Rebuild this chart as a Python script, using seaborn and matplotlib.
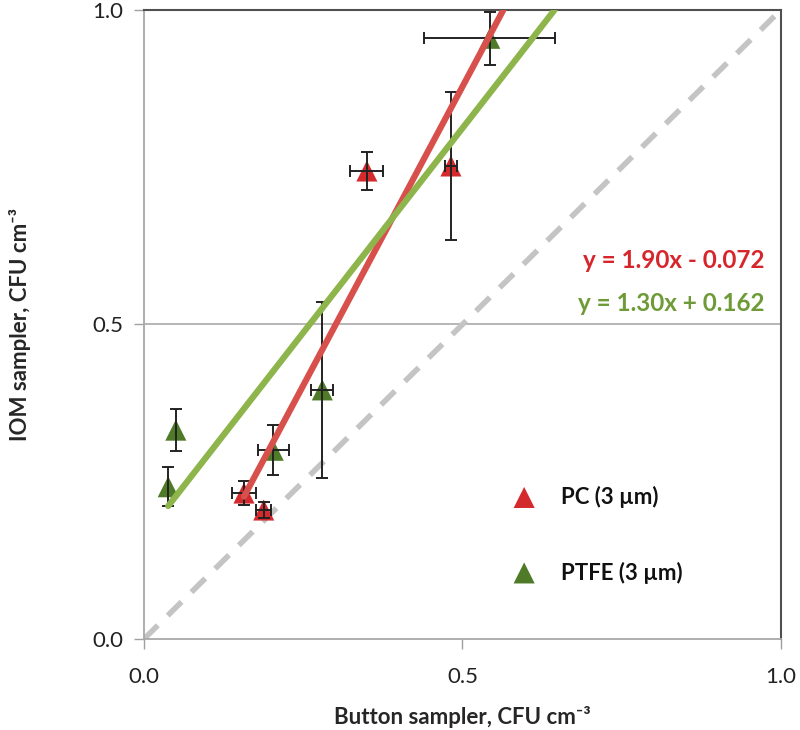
import matplotlib
matplotlib.use("Agg")
import matplotlib.pyplot as plt
import seaborn as sns
import numpy as np
import pandas as pd

# ---- data ----
pc_x = [0.350, 0.482, 0.157, 0.188]
pc_y = [0.744, 0.752, 0.232, 0.205]
pc_xerr = [0.026, 0.010, 0.019, 0.012]
pc_yerr = [0.030, 0.117, 0.019, 0.012]

ptfe_x = [0.038, 0.050, 0.203, 0.280, 0.543]
ptfe_y = [0.242, 0.332, 0.300, 0.396, 0.955]
ptfe_xerr = [0.000, 0.000, 0.024, 0.017, 0.103]
ptfe_yerr = [0.031, 0.033, 0.040, 0.140, 0.042]

pc_fit = (1.90, -0.072)
ptfe_fit = (1.30, 0.162)

series_labels = ["PC (3 µm)", "PTFE (3 µm)"]
eq_labels = ["y = 1.90x - 0.072", "y = 1.30x + 0.162"]
ticks = [0.0, 0.5, 1.0]
tick_labels = ["0.0", "0.5", "1.0"]

RED = "#d42a2e"
GREEN = "#4f7b29"
RED_LINE = "#d8504c"
GREEN_LINE = "#8db54b"

sns.set_style("white")
plt.rcParams["font.family"] = ["Lato", "DejaVu Sans"]

fig = plt.figure(figsize=(8, 7.3), dpi=100)
ax = fig.add_axes([0.18, 0.1247, 0.796, 0.8616])

# identity line
diag = pd.DataFrame({"x": ticks, "y": ticks})
sns.lineplot(data=diag, x="x", y="y", ax=ax, color="#c4c4c4", lw=4,
             dashes=False, linestyle=(0, (3.5, 2.5)), zorder=1)

# markers
pc_df = pd.DataFrame({"x": pc_x, "y": pc_y})
ptfe_df = pd.DataFrame({"x": ptfe_x, "y": ptfe_y})
sns.scatterplot(data=pc_df, x="x", y="y", ax=ax, marker="^", s=230,
                color=RED, edgecolor="none", zorder=3, clip_on=False)
sns.scatterplot(data=ptfe_df, x="x", y="y", ax=ax, marker="^", s=230,
                color=GREEN, edgecolor="none", zorder=3, clip_on=False)

# error bars
ax.errorbar(pc_x, pc_y, xerr=pc_xerr, yerr=pc_yerr, fmt="none",
            ecolor="#222222", elinewidth=1.4, capsize=4.5, capthick=1.4, zorder=4)
ax.errorbar(ptfe_x, ptfe_y, xerr=ptfe_xerr, yerr=ptfe_yerr, fmt="none",
            ecolor="#222222", elinewidth=1.4, capsize=4.5, capthick=1.4, zorder=4)

# fit lines
for xs, (m, b), c in [(pc_x, pc_fit, RED_LINE), (ptfe_x, ptfe_fit, GREEN_LINE)]:
    x0 = min(xs)
    x1 = (1.0 - b) / m
    line = pd.DataFrame({"x": [x0, x1], "y": [m * x0 + b, m * x1 + b]})
    sns.lineplot(data=line, x="x", y="y", ax=ax, color=c, lw=4.5, zorder=5)

ax.set_xlim(0, 1)
ax.set_ylim(0, 1)
ax.set_xticks(ticks)
ax.set_yticks(ticks)
ax.set_xticklabels(tick_labels, fontsize=16, color="#222222")
ax.set_yticklabels(tick_labels, fontsize=16, color="#222222")
ax.tick_params(axis="both", direction="out", length=7, width=1, color="#a0a0a0",
               bottom=True, left=True)
ax.tick_params(axis="x", pad=13)
ax.tick_params(axis="y", pad=8)

ax.axhline(0.5, color="#b0b0b0", lw=1.3, zorder=0)
for s in ["left", "bottom"]:
    ax.spines[s].set_color("#a8a8a8")
    ax.spines[s].set_linewidth(1.3)
for s in ["top", "right"]:
    ax.spines[s].set_color("#505050")
    ax.spines[s].set_linewidth(1.5)

ax.set_xlabel("Button sampler, CFU cm\u207b\u00b3", fontsize=16, fontweight="bold",
              labelpad=14)
ax.set_ylabel("IOM sampler, CFU cm\u207b\u00b3", fontsize=16, fontweight="bold",
              labelpad=44)

# equations
ax.text(0.975, 0.602, eq_labels[0], transform=ax.transAxes, ha="right",
        va="center", fontsize=17.5, fontweight="bold", color="#d6262c")
ax.text(0.975, 0.533, eq_labels[1], transform=ax.transAxes, ha="right",
        va="center", fontsize=17.5, fontweight="bold", color="#6e9b38")

# legend (manual)
for lab, c, yy in [(series_labels[0], RED, 0.225), (series_labels[1], GREEN, 0.105)]:
    ax.scatter([0.597], [yy], marker="^", s=230, color=c, transform=ax.transAxes,
               zorder=6, edgecolor="none")
    ax.text(0.655, yy, lab, transform=ax.transAxes, ha="left", va="center",
            fontsize=16, fontweight="bold", color="#111111")

fig.savefig("out.png", dpi=100)
